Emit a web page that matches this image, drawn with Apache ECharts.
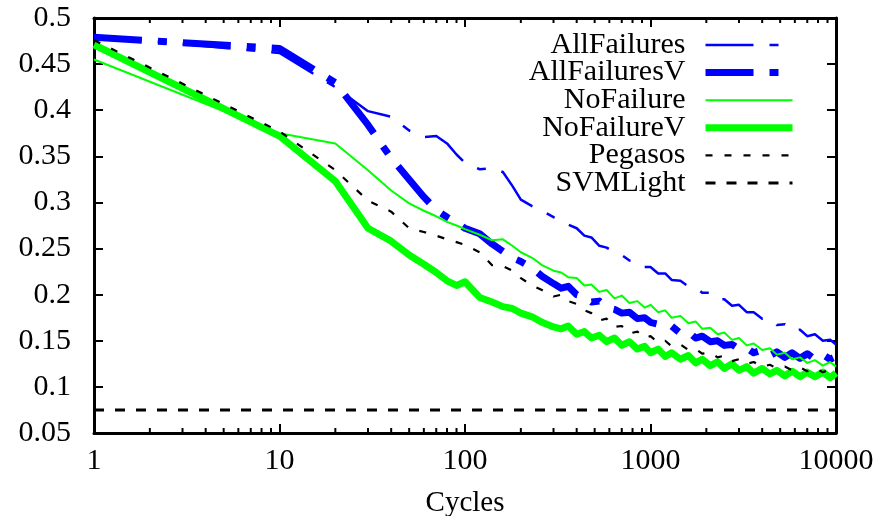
<!DOCTYPE html>
<html>
<head>
<meta charset="utf-8">
<script src="https://cdn.jsdelivr.net/npm/echarts@6/dist/echarts.min.js"></script>
<style>html,body{margin:0;padding:0;background:#fff;}#c{width:882px;height:516px;}</style>
</head>
<body>
<div id="c"></div>
<script>
const cycles = [1,10,20,30,40,50,60,70,80,90,100,120,140,160,180,200,230,260,300,
  330,360,400,440,480,530,580,640,700,770,
  850,930,1000,1100,1200,1300,1450,1600,1750,1900,
  2100,2300,2500,2750,3000,3300,3600,4000,4400,4800,
  5300,5800,6400,7000,7700,8500,9300,10000];

const allFailures = [0.481,0.462,0.425,0.399,0.393,0.378,0.371,0.372,0.364,0.352,
  0.343,0.336,0.337,0.333,0.318,0.303,0.296,0.291,0.284,
  0.281,0.276,0.272,0.264,0.262,0.253,0.251,0.246,0.243,0.237,
  0.236,0.230,0.230,0.223,0.223,0.216,0.215,0.209,0.208,0.202,
  0.202,0.195,0.195,0.188,0.189,0.181,0.181,0.174,0.174,0.167,
  0.168,0.161,0.162,0.155,0.157,0.150,0.151,0.146];

const allFailuresV = [0.479,0.467,0.430,0.384,0.348,0.325,0.306,0.292,0.284,0.278,
  0.272,0.266,0.255,0.247,0.240,0.236,0.229,0.220,0.212,
  0.207,0.209,0.200,0.198,0.192,0.193,0.186,0.184,0.180,0.181,
  0.174,0.175,0.170,0.168,0.165,0.166,0.158,0.160,0.153,0.155,
  0.149,0.150,0.145,0.146,0.141,0.142,0.137,0.140,0.134,0.138,
  0.132,0.137,0.131,0.136,0.130,0.135,0.130,0.133];

const noFailure = [0.455,0.375,0.364,0.335,0.313,0.299,0.291,0.285,0.279,0.275,
  0.271,0.265,0.259,0.260,0.253,0.246,0.240,0.232,0.226,
  0.224,0.219,0.218,0.210,0.211,0.203,0.205,0.196,0.199,0.191,
  0.193,0.186,0.189,0.181,0.183,0.175,0.177,0.169,0.171,0.163,
  0.164,0.157,0.159,0.151,0.153,0.145,0.147,0.140,0.142,0.135,
  0.137,0.130,0.132,0.126,0.129,0.123,0.127,0.122];

const noFailureV = [0.471,0.372,0.323,0.272,0.258,0.243,0.233,0.224,0.215,0.210,
  0.214,0.197,0.192,0.187,0.185,0.180,0.176,0.170,0.165,
  0.163,0.166,0.157,0.160,0.153,0.156,0.149,0.153,0.145,0.149,
  0.141,0.144,0.137,0.141,0.133,0.137,0.130,0.134,0.126,0.130,
  0.123,0.127,0.120,0.125,0.118,0.122,0.115,0.120,0.114,0.118,
  0.112,0.117,0.111,0.116,0.111,0.116,0.110,0.115];

const pegasos = [0.476,0.377,0.335,0.302,0.290,0.272,0.268,0.264,0.260,0.257,
  0.254,0.246,0.232,0.231,0.226,0.218,0.210,0.205,0.198,
  0.200,0.193,0.190,0.183,0.180,0.172,0.174,0.165,0.166,0.158,
  0.160,0.153,0.155,0.148,0.150,0.144,0.146,0.140,0.141,0.136,
  0.137,0.132,0.134,0.128,0.130,0.125,0.127,0.122,0.124,0.120,
  0.122,0.118,0.121,0.117,0.120,0.116,0.119,0.116];

const svmCycles = [1, 10000];
const svmLight = [0.075, 0.075];

const seriesNames = ['AllFailures','AllFailuresV','NoFailure','NoFailureV','Pegasos','SVMLight'];
const minorTicks = [2,3,4,5,6,7,8,9,20,30,40,50,60,70,80,90,200,300,400,500,600,700,800,900,2000,3000,4000,5000,6000,7000,8000,9000];
const X_MIN = 1, X_MAX = 10000, Y_MIN = 0.05, Y_MAX = 0.5, Y_STEP = 0.05;

const FONT = "'Liberation Serif','DejaVu Serif',serif";
const pairs = (xs, ys) => xs.map((x, i) => [x, ys[i]]);

const styles = {
  AllFailures:  {color: '#0000ff', width: 2.5, type: [48, 16, 9, 16]},
  AllFailuresV: {color: '#0000ff', width: 7,   type: [48, 16, 9, 16]},
  NoFailure:    {color: '#00ff00', width: 2,   type: 'solid'},
  NoFailureV:   {color: '#00ff00', width: 7,   type: 'solid'},
  Pegasos:      {color: '#000000', width: 2.2, type: [7, 12]},
  SVMLight:     {color: '#000000', width: 3,   type: [10, 11]}
};

const chart = echarts.init(document.getElementById('c'), null, {renderer: 'canvas'});

const axisLine = {show: true, lineStyle: {color: '#000', width: 3}};
const xBase = {type: 'log', logBase: 10, min: X_MIN, max: X_MAX, axisLine, splitLine: {show: false},
  axisTick: {show: true, inside: true, length: 9, lineStyle: {color: '#000', width: 2}}};
const yBase = {type: 'value', min: Y_MIN, max: Y_MAX, interval: Y_STEP, axisLine, splitLine: {show: false},
  axisTick: {show: true, inside: true, length: 9, lineStyle: {color: '#000', width: 2}}};

function lineSeries(name, xs, ys) {
  const s = styles[name];
  return {name, type: 'line', data: pairs(xs, ys), symbol: 'none', showSymbol: false, silent: true,
    lineStyle: {color: s.color, width: s.width, type: s.type, cap: 'butt', join: 'round'},
    itemStyle: {color: s.color}, z: 3};
}

chart.setOption({
  animation: false,
  backgroundColor: '#fff',
  grid: {left: 94, right: 46, top: 18, bottom: 83, containLabel: false, outerBoundsMode: 'none'},
  legend: {
    data: seriesNames.map(n => ({name: n,
      lineStyle: {color: styles[n].color, width: styles[n].width, type: styles[n].type, cap: 'butt'},
      itemStyle: {opacity: 0}})),
    orient: 'vertical', align: 'right', right: 86, top: 30, padding: 0,
    itemWidth: 87, itemHeight: 27, itemGap: -2.4, selectedMode: false,
    formatter: n => n + '  ',
    textStyle: {fontFamily: FONT, fontSize: 30, color: '#000', lineHeight: 27},
    itemStyle: {opacity: 0}
  },
  xAxis: [
    Object.assign({}, xBase, {position: 'bottom', name: 'Cycles', nameLocation: 'middle', nameGap: 56,
      nameTextStyle: {fontFamily: FONT, fontSize: 29, color: '#000'},
      axisLabel: {fontFamily: FONT, fontSize: 30, color: '#000', margin: 13, formatter: v => String(v)}}),
    Object.assign({}, xBase, {position: 'top', axisLabel: {show: false}})
  ],
  yAxis: [
    Object.assign({}, yBase, {position: 'left',
      axisLabel: {fontFamily: FONT, fontSize: 30, color: '#000', margin: 23}}),
    Object.assign({}, yBase, {position: 'right', axisLabel: {show: false}})
  ],
  series: [
    lineSeries('AllFailures', cycles, allFailures),
    lineSeries('AllFailuresV', cycles, allFailuresV),
    lineSeries('NoFailure', cycles, noFailure),
    lineSeries('NoFailureV', cycles, noFailureV),
    lineSeries('Pegasos', cycles, pegasos),
    lineSeries('SVMLight', svmCycles, svmLight),
    {
      type: 'custom', silent: true, z: 5, clip: false,
      data: minorTicks.map(v => [v, Y_MIN]),
      renderItem: function (params, api) {
        const x = api.coord([api.value(0), Y_MIN])[0];
        const cs = params.coordSys;
        const b = cs.y + cs.height, t = cs.y;
        return {type: 'group', children: [
          {type: 'line', shape: {x1: x, y1: b, x2: x, y2: b - 5}, style: {stroke: '#000', lineWidth: 2}},
          {type: 'line', shape: {x1: x, y1: t, x2: x, y2: t + 5}, style: {stroke: '#000', lineWidth: 2}}
        ]};
      }
    }
  ]
});
</script>
</body>
</html>
